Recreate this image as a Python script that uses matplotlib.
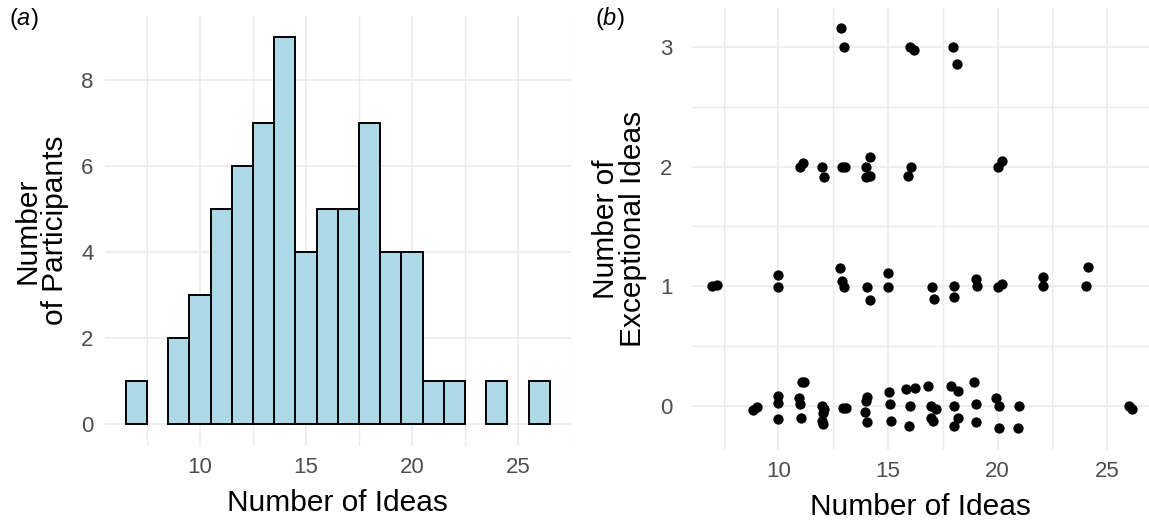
import numpy as np
import matplotlib
matplotlib.use("Agg")
import matplotlib.pyplot as plt
from matplotlib.ticker import MultipleLocator

plt.rcParams['font.family'] = ['Liberation Sans', 'DejaVu Sans']
plt.rcParams['mathtext.fontset'] = 'custom'
plt.rcParams['mathtext.rm'] = 'Liberation Sans'
plt.rcParams['mathtext.it'] = 'Liberation Sans:italic'

# histogram: participants per number of ideas
hist_ideas = [7, 9, 10, 11, 12, 13, 14, 15, 16, 17, 18, 19, 20, 21, 22, 24, 26]
hist_counts = [1, 2, 3, 5, 6, 7, 9, 4, 5, 5, 7, 4, 4, 1, 1, 1, 1]

# scatter: ideas vs exceptional ideas (plotted positions, incl. jitter)
pts_ideas = [
    12.85, 13.0, 16.0, 16.2, 17.98, 18.14,
    11.0, 11.14, 12.0, 12.1, 12.88, 13.03, 13.98, 14.2, 14.0, 14.2, 15.9, 16.06, 20.0, 20.2,
    6.97, 7.2, 10.0, 10.0, 12.8, 12.88, 12.99, 14.02, 14.17, 15.0, 15.0, 17.02, 17.09,
    17.99, 17.99, 18.99, 19.05, 20.0, 20.2, 22.05, 22.05, 24.1, 24.05,
    8.84, 9.05, 10.0, 10.0, 10.0, 11.06, 11.17, 10.95, 11.0, 11.02, 12.0, 12.1, 12.05,
    11.98, 12.02, 12.95, 13.08, 14.05, 14.0, 13.95, 14.05, 15.05, 15.08, 15.15, 15.84,
    16.21, 15.99, 15.95, 16.82, 16.97, 17.2, 16.97, 17.05, 17.88, 18.18, 18.03, 18.18,
    18.03, 18.94, 18.99, 19.02, 19.93, 20.05, 20.08, 20.99, 20.95, 25.99, 26.14,
]
pts_exceptional = [
    3.16, 3.0, 3.0, 2.98, 3.0, 2.86,
    2.0, 2.03, 2.0, 1.91, 2.0, 2.0, 1.91, 1.92, 2.0, 2.08, 1.92, 2.0, 2.0, 2.05,
    1.0, 1.01, 1.09, 0.99, 1.15, 1.04, 0.99, 0.99, 0.88, 1.11, 0.99, 0.99, 0.89,
    1.0, 0.91, 1.06, 1.0, 0.99, 1.02, 1.08, 1.0, 1.16, 1.0,
    -0.04, -0.01, 0.08, 0.02, -0.11, 0.2, 0.2, 0.06, 0.01, -0.10, 0.0, -0.03, -0.06,
    -0.13, -0.15, -0.02, -0.02, 0.07, 0.04, -0.05, -0.14, 0.11, 0.01, -0.13, 0.14,
    0.15, 0.0, -0.17, 0.16, 0.0, -0.03, -0.10, -0.13, 0.16, 0.12, 0.0, -0.1,
    -0.17, 0.195, 0.01, -0.14, 0.065, 0.0, -0.19, 0.0, -0.19, 0.0, -0.03,
]

grid_col = '#EBEBEB'
tick_col = '#4D4D4D'

fig = plt.figure(figsize=(11.49, 5.23), dpi=100)
ax1 = fig.add_axes([0.091, 0.148, 0.406, 0.822])
ax2 = fig.add_axes([0.602, 0.140, 0.398, 0.845])

# (a) histogram
ax1.bar(hist_ideas, hist_counts, width=1.0, color='#ADD8E6',
        edgecolor='black', linewidth=1.4, zorder=3)
ax1.set_xlim(5.5, 27.5)
ax1.set_ylim(-0.5, 9.5)
ax1.xaxis.set_major_locator(MultipleLocator(5))
ax1.xaxis.set_minor_locator(MultipleLocator(2.5))
ax1.yaxis.set_major_locator(MultipleLocator(2))
ax1.set_xlabel('Number of Ideas', fontsize=21.5, labelpad=8)
ax1.set_ylabel('Number\nof Participants', fontsize=21.5, labelpad=9, linespacing=0.95)

# (b) scatter
ax2.scatter(pts_ideas, pts_exceptional, s=55, color='black', linewidths=0, zorder=3)
ax2.set_xlim(6.05, 26.9)
ax2.set_ylim(-0.37, 3.33)
ax2.xaxis.set_major_locator(MultipleLocator(5))
ax2.xaxis.set_minor_locator(MultipleLocator(2.5))
ax2.yaxis.set_major_locator(MultipleLocator(1))
ax2.yaxis.set_minor_locator(MultipleLocator(0.5))
ax2.set_xlabel('Number of Ideas', fontsize=21.5, labelpad=8)
ax2.set_ylabel('Number of\nExceptional Ideas', fontsize=21.5, labelpad=9, linespacing=0.95)

for ax in (ax1, ax2):
    for sp in ax.spines.values():
        sp.set_visible(False)
    ax.set_axisbelow(True)
    ax.grid(which='major', color=grid_col, linewidth=1.2)
    ax.grid(which='minor', axis='x', color=grid_col, linewidth=1.0)
    ax.tick_params(which='both', length=0, labelsize=16, colors=tick_col)
    ax.tick_params(axis='x', pad=8)
ax1.tick_params(axis='y', pad=8)
ax2.tick_params(axis='y', pad=14)
ax1.set_xticks([10, 15, 20, 25])
ax2.grid(which='minor', axis='y', color=grid_col, linewidth=1.0)

fig.text(0.008, 0.952, r'($\mathit{a}$)', fontsize=17)
fig.text(0.518, 0.952, r'($\mathit{b}$)', fontsize=17)

fig.savefig('out.png', dpi=100)
